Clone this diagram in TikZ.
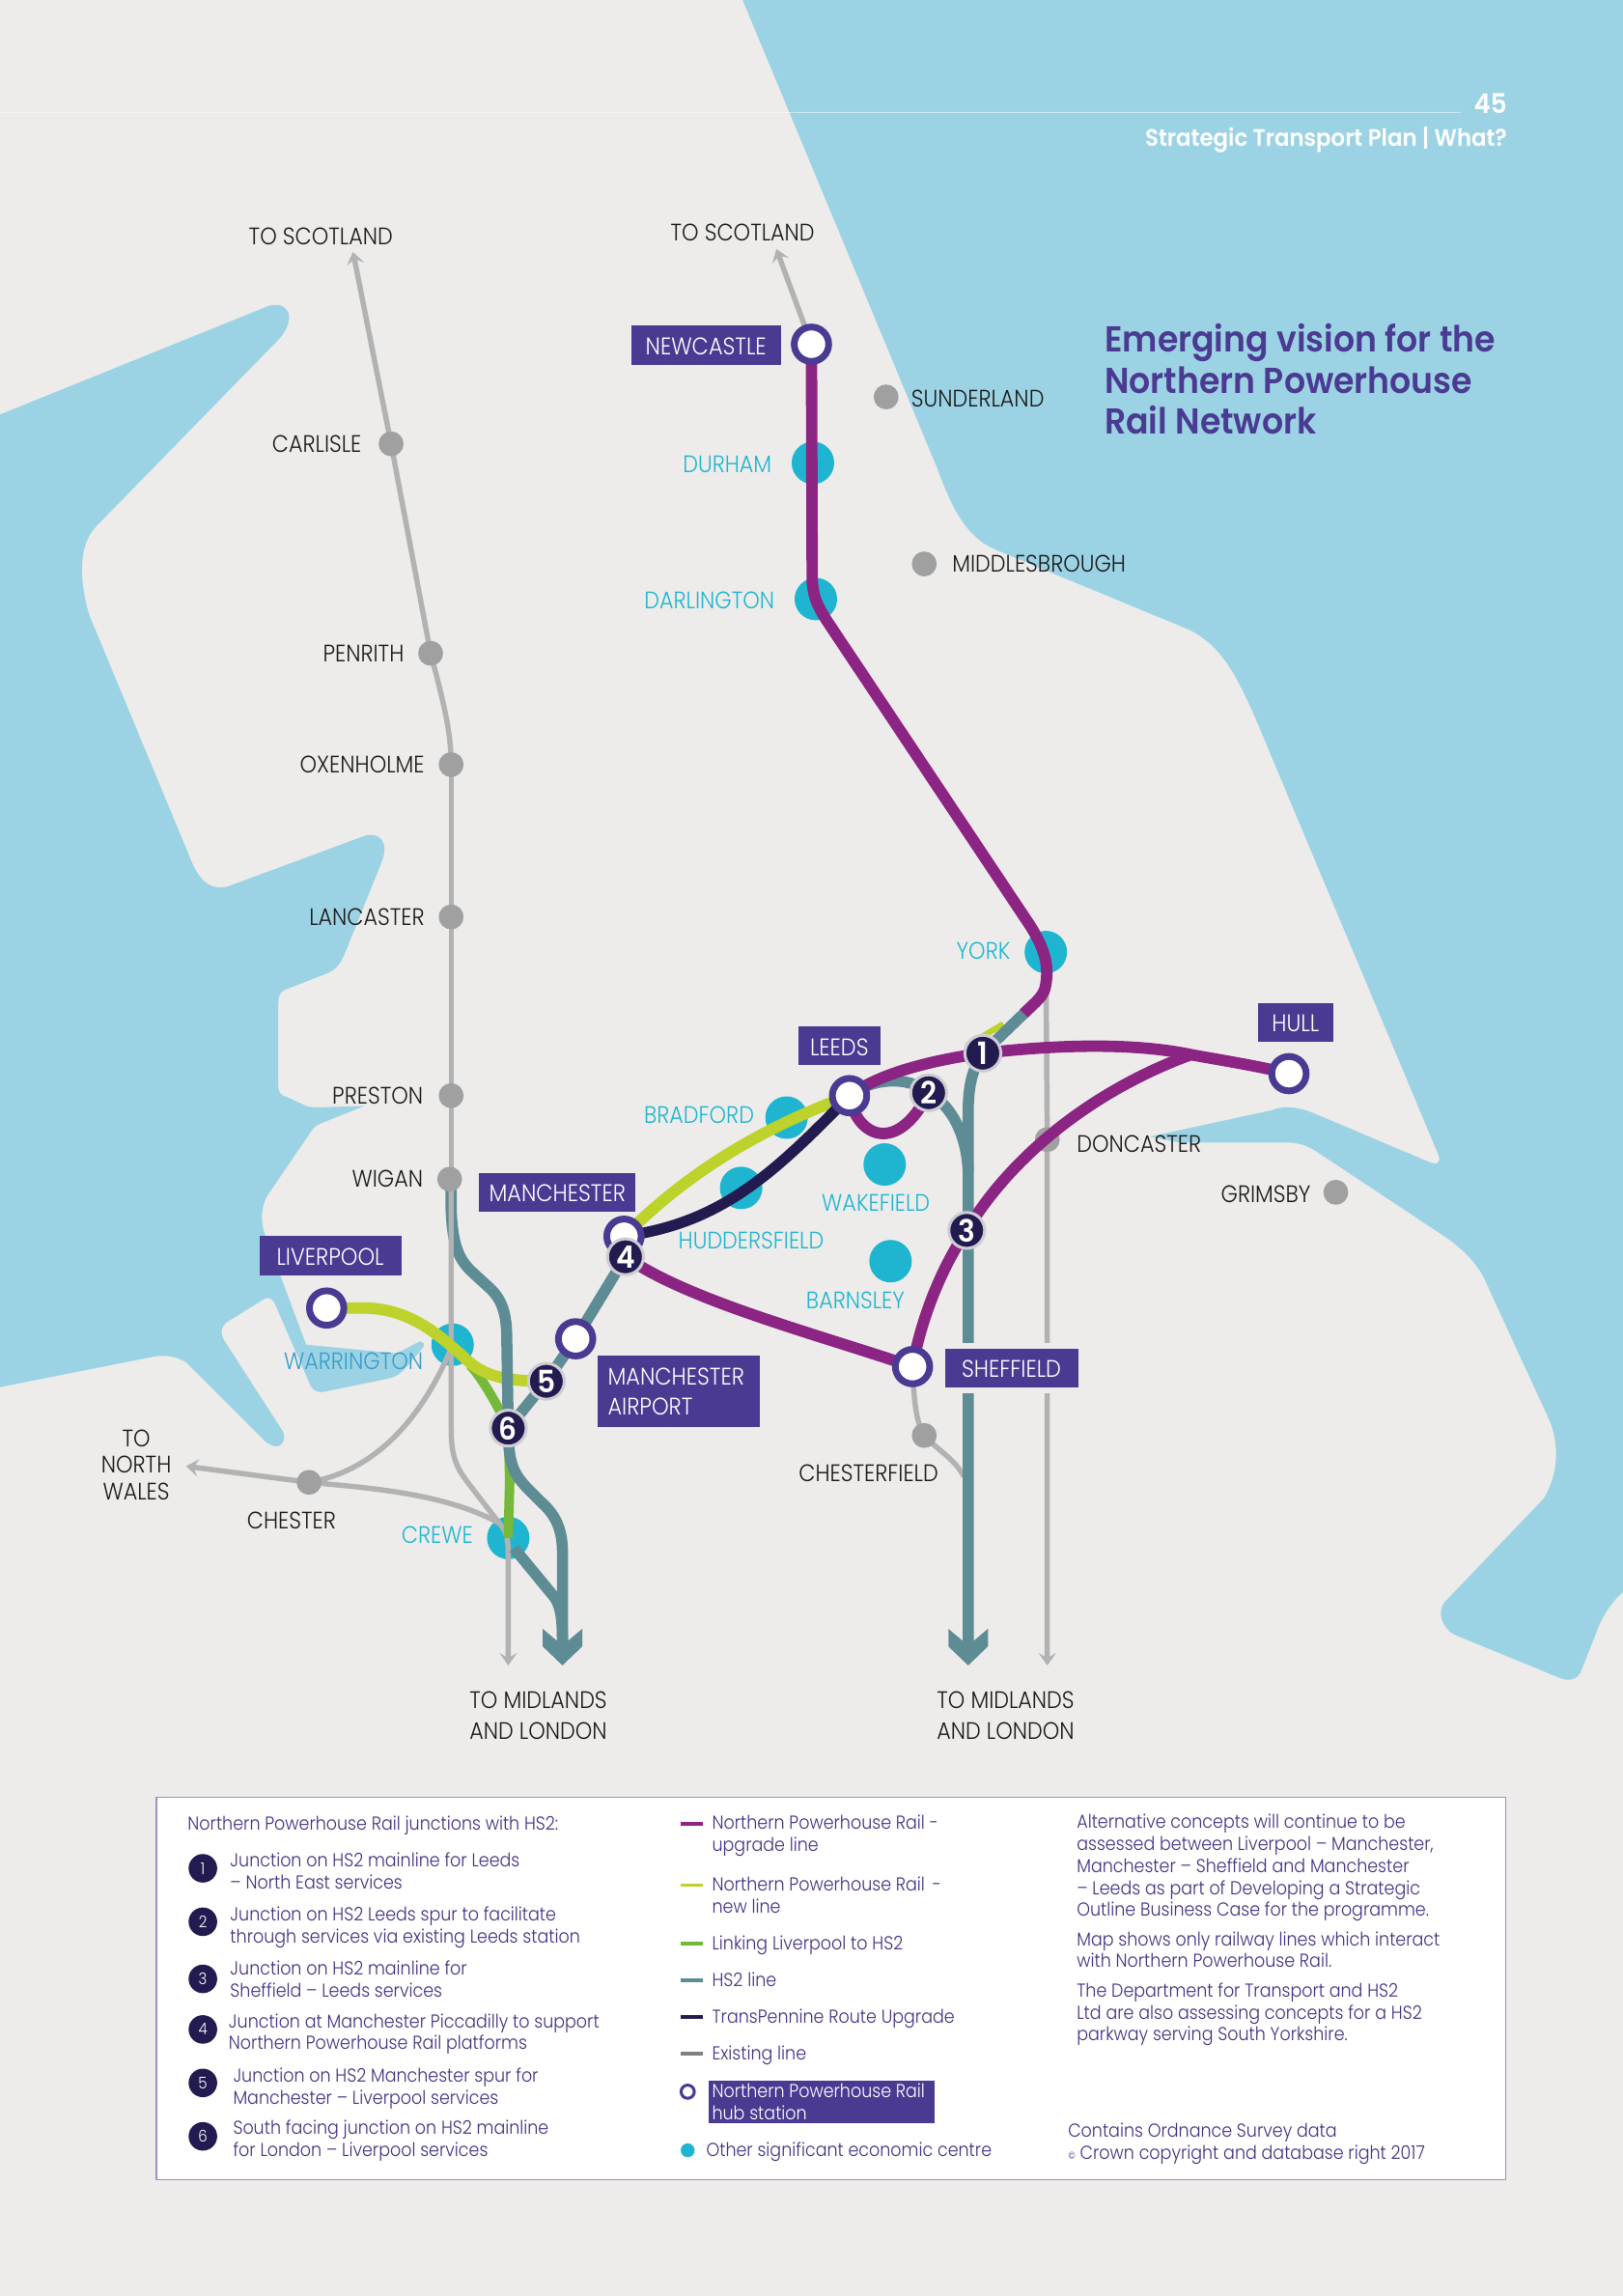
\documentclass[tikz,border=0pt]{standalone}
\usepackage{fontspec}
\usetikzlibrary{arrows.meta}
\setmainfont{Poppins}[UprightFont=* Light,BoldFont=* SemiBold,FakeStretch=0.9]
\newfontfamily\medfont{Poppins}[UprightFont=* SemiBold,FakeStretch=0.93]
\definecolor{seacol}{HTML}{9CD3E4}
\definecolor{landcol}{HTML}{EDECEA}
\definecolor{purplecol}{HTML}{8C2484}
\definecolor{limecol}{HTML}{BDD22B}
\definecolor{greencol}{HTML}{76B83A}
\definecolor{tealcol}{HTML}{5E8C94}
\definecolor{navycol}{HTML}{221B4F}
\definecolor{graycol}{HTML}{B2B2B2}
\definecolor{dotgray}{HTML}{A0A0A0}
\definecolor{cyancol}{HTML}{1FB5D0}
\definecolor{boxcol}{HTML}{4B3A92}
\definecolor{inkcol}{HTML}{1A1A1A}
\definecolor{legcol}{HTML}{3D3180}
\definecolor{warrcol}{HTML}{3A9CCB}
\pgfdeclarelayer{sealayer}
\pgfdeclarelayer{cyanlayer}
\pgfdeclarelayer{graylayer}
\pgfdeclarelayer{dotlayer}
\pgfdeclarelayer{linelayer}
\pgfsetlayers{sealayer,cyanlayer,graylayer,dotlayer,linelayer,main}
\tikzset{
 x=1pt,y=-1pt,
 graydot/.style={circle,fill=dotgray,minimum size=17pt,inner sep=0},
 cyandot/.style={circle,fill=cyancol,minimum size=29pt,inner sep=0},
 hub/.style={circle,draw=boxcol,fill=white,line width=4.6pt,minimum size=23.5pt,inner sep=0},
 junction/.style={circle,fill=navycol,draw=landcol!85!navycol,line width=2pt,minimum size=24.5pt,inner sep=0,text=white,font=\medfont\fontsize{21}{21}\selectfont},
 placelab/.style={inner sep=0,text=inkcol,font=\fontsize{16.3}{21}\selectfont,text height=11.4pt,text depth=0pt},
 cyanlab/.style={placelab,text=cyancol},
 stnbox/.style={fill=boxcol,text=white,inner sep=0,font=\fontsize{16.4}{21}\selectfont,align=left},
 onebox/.style={stnbox,align=center,text height=13pt,text depth=0pt},
 multilab/.style={inner sep=0,text=inkcol,font=\fontsize{16.3}{21}\selectfont,align=center},
 legtxt/.style={inner sep=0,anchor=north west,align=left,text=legcol,font=\fontsize{12.8}{15}\selectfont,execute at begin node=\strut},
 legnum/.style={circle,fill=navycol,minimum size=19.5pt,inner sep=0,text=white,font=\fontsize{11}{11}\selectfont},
 swatch/.style={line width=2.4pt},
 existing/.style={draw=graycol,line width=3.6pt},
 arrowed/.style={existing,-{Stealth[length=8.5pt,width=12pt,inset=3.5pt]}},
 hstwo/.style={draw=tealcol,line width=7.6pt},
 npru/.style={draw=purplecol,line width=7.8pt},
 nprn/.style={draw=limecol,line width=7.8pt},
 linkl/.style={draw=greencol,line width=6.5pt},
 tpu/.style={draw=navycol,line width=7.4pt},
}
\begin{document}
\begin{tikzpicture}
\useasboundingbox (0,0) rectangle (1108,1567.5);
\begin{pgfonlayer}{sealayer}
\fill[landcol] (0,0) rectangle (1108,1567.5);
% east sea
\fill[seacol] (507,0) -- (640,320) .. controls (655,362) and (668,371) .. (684,377) -- (812,430)
 .. controls (835,442) and (845,460) .. (867,514) -- (981,786) .. controls (985,794) and (981,796) .. (975,793)
 -- (897,760) .. controls (885,755) and (875,755) .. (868,758) -- (785,776) -- (805,780) -- (879,780)
 .. controls (888,780) and (894,783) .. (900,787) -- (989,846) .. controls (1005,858) and (1012,868) .. (1017,881)
 -- (1058,970) .. controls (1066,990) and (1062,1010) .. (1054,1023) -- (987,1093)
 .. controls (980,1100) and (985,1112) .. (993,1116) -- (1066,1146) .. controls (1072,1148) and (1077,1146) .. (1079,1142)
 -- (1092,1109) .. controls (1096,1100) and (1102,1092) .. (1108,1087) -- (1108,0) -- cycle;
% west sea
\fill[seacol] (0,283) -- (183,209) .. controls (195,205) and (204,215) .. (191,231)
 -- (66,359) .. controls (52,373) and (55,400) .. (61,420) -- (132,591) .. controls (138,603) and (145,608) .. (156,605)
 -- (248,571) .. controls (258,567) and (267,574) .. (260,590) -- (235,652) .. controls (232,659) and (228,663) .. (222,665)
 -- (194,676) .. controls (191,678) and (190,680) .. (190,685) -- (190,742) .. controls (190,746) and (192,748) .. (196,749)
 -- (209,755) .. controls (212,756) and (215,756) .. (218,756) -- (249,755) -- (219,767) .. controls (216,768) and (214,770) .. (212,773)
 -- (182,817) .. controls (178,825) and (178,835) .. (181,843) -- (209,918) -- (271,924) -- (286,916)
 .. controls (289,915) and (291,919) .. (288,921) -- (276,935) .. controls (273,938) and (270,940) .. (266,941)
 -- (222,950) .. controls (218,951) and (214,950) .. (212,946) -- (188,891) .. controls (186,886) and (183,885) .. (180,887)
 -- (156,902) .. controls (151,905) and (150,910) .. (153,915) -- (193,977) .. controls (196,983) and (192,989) .. (186,987)
 .. controls (184,986) and (182,985) .. (180,983) -- (127,930) .. controls (120,926) and (113,925) .. (106,926) -- (0,947) -- cycle;
\draw[white,opacity=.5,line width=.8pt] (0,77) -- (997,77);
\end{pgfonlayer}

% --- stations ---
\begin{pgfonlayer}{cyanlayer}
\node[cyandot] (durham) at (555,316) {};
\node[cyandot] (darlington) at (557,409) {};
\node[cyandot] (york) at (714,650) {};
\node[cyandot] (bradford) at (537,763) {};
\node[cyandot] (huddersfield) at (506,811) {};
\node[cyandot] (wakefield) at (604,795) {};
\node[cyandot] (barnsley) at (608,861) {};
\node[cyandot] (warrington) at (309,918) {};
\node[cyandot] (crewe) at (347,1050) {};
\end{pgfonlayer}
\begin{pgfonlayer}{dotlayer}
\node[graydot] (carlisle) at (267,303) {};
\node[graydot] (penrith) at (294,446) {};
\node[graydot] (oxenholme) at (308,522) {};
\node[graydot] (lancaster) at (308,626) {};
\node[graydot] (preston) at (308,748) {};
\node[graydot] (wigan) at (307,805) {};
\node[graydot] (sunderland) at (605,271) {};
\node[graydot] (middlesbrough) at (631,385) {};
\node[graydot] (grimsby) at (912,814) {};
\node[graydot] (doncaster) at (715,778) {};
\node[graydot] (chesterfield) at (631,980) {};
\node[graydot] (chester) at (211,1012) {};
\end{pgfonlayer}
\node[hub] (newcastle) at (554,235) {};
\node[hub] (leeds) at (580,748) {};
\node[hub] (hull) at (880,733) {};
\node[hub] (manchester) at (426,844) {};
\node[hub] (mcrairport) at (393,914) {};
\node[hub] (liverpool) at (223,893) {};
\node[hub] (sheffield) at (623,933) {};
\node[junction] (jone) at (671,719) {1};
\node[junction] (jtwo) at (634,746) {2};
\node[junction] (jthree) at (660,840) {3};
\node[junction] (jfour) at (427,858) {4};
\node[junction] (jfive) at (373,943) {5};
\node[junction] (jsix) at (347,975) {6};
\coordinate (scotwest) at (241,172);
\coordinate (scoteast) at (530,170);
\coordinate (waleswest) at (127,1001);
\coordinate (midwest) at (347,1137);
\coordinate (mideast) at (715,1137);
\coordinate (tipwest) at (384,1137);
\coordinate (tipeast) at (661,1137);
\coordinate (purpleend) at (699,692);
\coordinate (hullmerge) at (813,720);
\coordinate (linkstart) at (321,932);

% --- existing lines ---
\begin{pgfonlayer}{graylayer}
\draw[hstwo] (308,812) -- (308,826) .. controls (309,850) and (313,860) .. (323,869) -- (335,880);
\draw[arrowed] (carlisle.center) -- (scotwest);
\draw[existing] (carlisle.center) -- (penrith.center) .. controls (303,480) and (308,500) .. (oxenholme.center);
\draw[existing] (oxenholme.center) -- (lancaster.center) -- (preston.center) -- (308,805);
\draw[arrowed] (308,805) -- (308,975) .. controls (308,1000) and (314,1005) .. (327,1022) -- (341,1040) .. controls (346,1046) and (347,1050) .. (347,1062) -- (midwest);
\draw[arrowed] (newcastle.center) -- (scoteast);
\draw[arrowed] (chester.center) -- (waleswest);
\draw[existing] (chester.center) .. controls (262,1003) and (292,960) .. (warrington.center);
\draw[existing] (chester.center) .. controls (255,1016) and (305,1020) .. (341,1040);
\draw[arrowed] (york.center) -- (doncaster.center) -- (mideast);
\draw[existing] (sheffield.center) .. controls (624,960) and (626,972) .. (chesterfield.center) .. controls (640,990) and (652,996) .. (658,1008);
\end{pgfonlayer}

% --- coloured lines ---
\begin{pgfonlayer}{linelayer}
\draw[linkl] (jsix.center) -- (348,1010) -- (crewe.center);
\draw[linkl] (linkstart) .. controls (330,942) and (340,960) .. (jsix.center);
\draw[nprn,line width=4pt] (660,714) -- (685,699);
\draw[nprn] (liverpool.center) -- (248,893) .. controls (280,893) and (300,912) .. (315,925) .. controls (328,938) and (340,943) .. (jfive.center);
\draw[nprn] (manchester.center) .. controls (470,800) and (520,770) .. (leeds.center);
% HS2
\draw[hstwo] (335,880) .. controls (343,888) and (346,897) .. (346,915) -- (jsix.center);
\draw[hstwo] (jsix.center) .. controls (347,998) and (350,1005) .. (359,1015) -- (370,1026) .. controls (380,1035) and (384,1045) .. (384,1060) -- (384,1122);
\draw[hstwo] (351,1057) -- (379,1091) .. controls (383,1098) and (384,1105) .. (384,1122);
\draw[hstwo] (jfour.center) -- (mcrairport.center) -- (jfive.center) -- (jsix.center);
\draw[hstwo] (661,1122) -- (661,760) .. controls (661,740) and (664,730) .. (jone.center) -- (purpleend);
\draw[hstwo] (leeds.center) .. controls (595,736) and (620,734) .. (jtwo.center) .. controls (650,755) and (660,775) .. (661,800);
\fill[tealcol] (tipwest) -- ++(13.5,-13) -- ++(0,-12) -- ++(-9.5,8) -- ++(-8,0) -- ++(-9.5,-8) -- ++(0,12) -- cycle;
\fill[tealcol] (tipeast) -- ++(13.5,-13) -- ++(0,-12) -- ++(-9.5,8) -- ++(-8,0) -- ++(-9.5,-8) -- ++(0,12) -- cycle;
\draw[tpu] (manchester.center) .. controls (490,835) and (525,805) .. (leeds.center);
% NPR upgrade
\draw[npru] (newcastle.center) -- (554.5,395) .. controls (555,408) and (558,413) .. (564,423) -- (702,630) .. controls (714,648) and (716,660) .. (714,672) .. controls (713,680) and (708,683) .. (purpleend);
\draw[npru] (leeds.center) .. controls (600,733) and (635,724) .. (jone.center);
\draw[npru] (jone.center) .. controls (715,714) and (770,711) .. (hullmerge) .. controls (835,724) and (860,728) .. (hull.center);
\draw[npru] (sheffield.center) .. controls (628,905) and (640,870) .. (jthree.center);
\draw[npru] (jthree.center) .. controls (690,790) and (745,745) .. (hullmerge);
\draw[npru] (jfour.center) .. controls (470,888) and (555,910) .. (sheffield.center);
\draw[npru] (leeds.center) .. controls (584,775) and (612,790) .. (jtwo.center);
\fill[landcol] (645,917) rectangle (736,951);
\end{pgfonlayer}

% --- station boxes ---
\node[onebox,minimum width=102pt,minimum height=27pt] (newcastlebox) at (482,235.5) {NEWCASTLE};
\node[onebox,minimum width=56pt,minimum height=26pt] (leedsbox) at (573,714) {LEEDS};
\node[onebox,minimum width=51pt,minimum height=26pt] (hullbox) at (884.5,698) {HULL};
\node[onebox,minimum width=107pt,minimum height=26pt] (mcrbox) at (380.5,814) {MANCHESTER};
\node[onebox,minimum width=97pt,minimum height=27pt] (lpoolbox) at (225.5,857.5) {LIVERPOOL};
\node[onebox,minimum width=91pt,minimum height=26pt] (sheffbox) at (690.5,934) {SHEFFIELD};
\node[stnbox,minimum width=111pt,minimum height=48.5pt,text width=97pt] (airportbox) at (463.5,950) {MANCHESTER\\AIRPORT};

% --- place labels ---
\node[placelab] (lscotw) at (219,161.5) {TO SCOTLAND};
\node[placelab] (lscote) at (507,158.5) {TO SCOTLAND};
\node[placelab,anchor=east] (lcarl) at (247,303) {CARLISLE};
\node[placelab,anchor=east] (lpen) at (276,446) {PENRITH};
\node[placelab,anchor=east] (loxe) at (290,522) {OXENHOLME};
\node[placelab,anchor=east] (llan) at (290,626) {LANCASTER};
\node[placelab,anchor=east] (lpre) at (289,748) {PRESTON};
\node[placelab,anchor=east] (lwig) at (289,805) {WIGAN};
\node[placelab,anchor=west] (lsun) at (622,272) {SUNDERLAND};
\node[placelab,anchor=west] (lmid) at (650,385) {MIDDLESBROUGH};
\node[placelab,anchor=west] (ldon) at (735,781) {DONCASTER};
\node[placelab,anchor=east] (lgri) at (895,815) {GRIMSBY};
\node[placelab] (lchf) at (593,1006) {CHESTERFIELD};
\node[placelab] (lche) at (199,1038) {CHESTER};
\node[multilab] (lwales) at (93,1000) {TO\\[-3pt]NORTH\\[-3pt]WALES};
\node[multilab] (lmidw) at (367.5,1171.5) {TO MIDLANDS\\AND LONDON};
\node[multilab] (lmide) at (686.5,1171.5) {TO MIDLANDS\\AND LONDON};
\node[cyanlab,anchor=east] (ldur) at (527,317) {DURHAM};
\node[cyanlab,anchor=east] (ldar) at (529,410) {DARLINGTON};
\node[cyanlab,anchor=east] (lyor) at (690,649) {YORK};
\node[cyanlab,anchor=east] (lbra) at (515,761) {BRADFORD};
\node[cyanlab,anchor=west] (lhud) at (463,847) {HUDDERSFIELD};
\node[cyanlab] (lwak) at (598,821) {WAKEFIELD};
\node[cyanlab] (lbar) at (584,888) {BARNSLEY};
\node[cyanlab,anchor=east,text=warrcol] (lwar) at (289,929) {WARRINGTON};
\node[cyanlab,anchor=east] (lcre) at (323,1048) {CREWE};

% --- header and title ---
\node[anchor=east,inner sep=0,text=white,font=\medfont\fontsize{18.5}{18.5}\selectfont] (pagenum) at (1029,71) {45};
\node[anchor=east,inner sep=0,text=white,font=\medfont\fontsize{16.2}{17}\selectfont] (running) at (1029,95.5) {Strategic Transport Plan | What?};
\node[anchor=north west,inner sep=0,align=left,text=boxcol,font=\medfont\fontsize{24.6}{28}\selectfont] (title) at (754,221) {Emerging vision for the\\Northern Powerhouse\\Rail Network};

% --- legend ---
\node[draw=boxcol!55!white,line width=1.2pt,fill=white,minimum width=921pt,minimum height=261pt,inner sep=0] (legendbox) at (567.5,1357.5) {};
\node[legtxt] (lt) at (128,1238.5) {Northern Powerhouse Rail junctions with HS2:};
\node[legnum] (n1) at (138.5,1275.5) {1};
\node[legnum] (n2) at (138.5,1312) {2};
\node[legnum] (n3) at (138.5,1351) {3};
\node[legnum] (n4) at (138.5,1385.5) {4};
\node[legnum] (n5) at (138.5,1422) {5};
\node[legnum] (n6) at (138.5,1458.5) {6};
\node[legtxt] (t1) at (157,1264.5) {Junction on HS2 mainline for Leeds\\– North East services};
\node[legtxt] (t2) at (157,1301.5) {Junction on HS2 Leeds spur to facilitate\\through services via existing Leeds station};
\node[legtxt] (t3) at (157,1338.5) {Junction on HS2 mainline for\\Sheffield – Leeds services};
\node[legtxt] (t4) at (156,1374.5) {Junction at Manchester Piccadilly to support\\Northern Powerhouse Rail platforms};
\node[legtxt] (t5) at (159,1411.5) {Junction on HS2 Manchester spur for\\Manchester – Liverpool services};
\node[legtxt] (t6) at (159,1447.5) {South facing junction on HS2 mainline\\for London – Liverpool services};
\draw[swatch,purplecol] (465,1245) -- (480,1245);
\draw[swatch,limecol] (465,1287) -- (480,1287);
\draw[swatch,greencol] (465,1327) -- (480,1327);
\draw[swatch,tealcol] (465,1352) -- (480,1352);
\draw[swatch,navycol] (465,1377) -- (480,1377);
\draw[swatch,gray] (465,1402) -- (480,1402);
\node[legtxt] (s1) at (486,1239) {Northern Powerhouse Rail -\\upgrade line};
\node[legtxt] (s2) at (486,1281) {Northern Powerhouse Rail \,-\\new line};
\node[legtxt] (s3) at (486,1320.5) {Linking Liverpool to HS2};
\node[legtxt] (s4) at (486,1345.5) {HS2 line};
\node[legtxt] (s5) at (486,1370.5) {TransPennine Route Upgrade};
\node[legtxt] (s6) at (486,1395.5) {Existing line};
\node[circle,draw=boxcol,line width=2pt,minimum size=9pt,inner sep=0] (keyhub) at (469.5,1428) {};
\node[fill=boxcol,minimum width=154pt,minimum height=29pt,inner sep=0] (keybox) at (561,1435) {};
\node[legtxt,text=white] (s7) at (486,1422.5) {Northern Powerhouse Rail\\hub station};
\node[circle,fill=cyancol,minimum size=9.5pt,inner sep=0] (keydot) at (469.5,1468) {};
\node[legtxt] (s8) at (482,1461.5) {Other significant economic centre};
\node[legtxt] (r1) at (735,1238.5) {Alternative concepts will continue to be\\assessed between Liverpool – Manchester,\\Manchester – Sheffield and Manchester\\– Leeds as part of Developing a Strategic\\Outline Business Case for the programme.};
\node[legtxt] (r2) at (735,1318.5) {Map shows only railway lines which interact\\with Northern Powerhouse Rail.};
\node[legtxt] (r3) at (735,1353.5) {The Department for Transport and HS2\\Ltd are also assessing concepts for a HS2\\parkway serving South Yorkshire.};
\node[legtxt] (r4) at (729,1449.5) {Contains Ordnance Survey data\\{\scriptsize ©} Crown copyright and database right 2017};
\end{tikzpicture}
\end{document}
